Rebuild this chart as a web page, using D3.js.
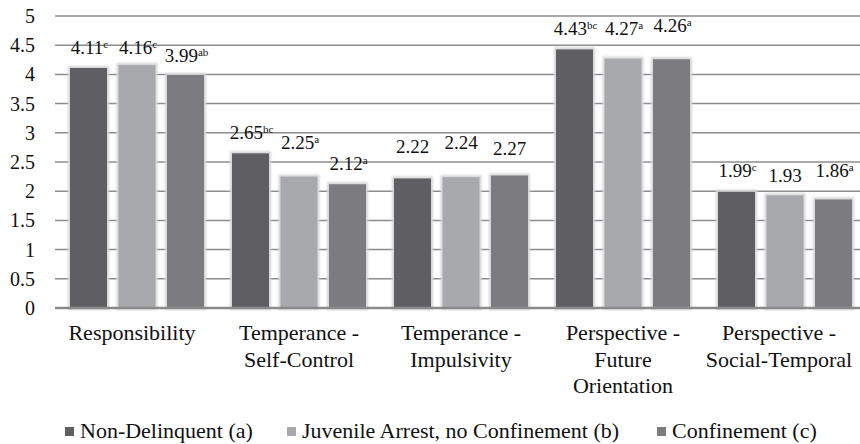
<!DOCTYPE html>
<html>
<head>
<meta charset="utf-8">
<script src="https://cdn.jsdelivr.net/npm/d3@7/dist/d3.min.js"></script>
<style>
  html, body { margin: 0; padding: 0; background: #fff; }
  svg { display: block; }
  #chart text, #chart tspan { font-family: "Liberation Serif", serif !important; }
</style>
</head>
<body>
<svg id="chart" width="860" height="444"></svg>
<script>
// Scale scores by group
const categories = [
  ["Responsibility"],
  ["Temperance -", "Self-Control"],
  ["Temperance -", "Impulsivity"],
  ["Perspective -", "Future", "Orientation"],
  ["Perspective -", "Social-Temporal"]
];
const seriesNames = ["Non-Delinquent (a)", "Juvenile Arrest, no Confinement (b)", "Confinement (c)"];
const nonDelinquent = [4.11, 2.65, 2.22, 4.43, 1.99];
const juvenileArrest = [4.16, 2.25, 2.24, 4.27, 1.93];
const confinement   = [3.99, 2.12, 2.27, 4.26, 1.86];
// significance letters shown as superscripts
const supNonDelinquent = ["c", "bc", "", "bc", "c"];
const supJuvenileArrest = ["c", "a", "", "a", ""];
const supConfinement   = ["ab", "a", "", "a", "a"];
const yTicks = [0, 0.5, 1, 1.5, 2, 2.5, 3, 3.5, 4, 4.5, 5];

const values = [nonDelinquent, juvenileArrest, confinement];
const sups = [supNonDelinquent, supJuvenileArrest, supConfinement];
const colors = ["#5e5f63", "#a8a9ac", "#7b7c80"];
const FONT = "Liberation Serif";

const svg = d3.select("#chart");
const catKeys = categories.map(c => c.join(" "));

const x = d3.scaleBand().domain(catKeys).range([56, 866]);
const xs = d3.scaleBand().domain(d3.range(3)).range([8.25, 153.75]).paddingInner(0.237).paddingOuter(0.1185);
const y = d3.scaleLinear().domain([0, 5]).range([308, 16]);

// horizontal gridlines
svg.append("g").selectAll("line").data(yTicks.filter(t => t > 0)).join("line")
  .attr("x1", 55).attr("x2", 860)
  .attr("y1", d => y(d)).attr("y2", d => y(d))
  .attr("stroke", "#8c8c8c").attr("stroke-width", 1.5);

// y tick labels
const yAxis = d3.axisLeft(y).tickValues(yTicks).tickSize(0).tickPadding(0).tickFormat(d3.format("~g"));
const ga = svg.append("g").attr("transform", "translate(35,0)").call(yAxis);
ga.select(".domain").remove();
ga.attr("font-family", null).attr("font-size", null);
ga.selectAll("text").style("font-family", FONT, "important").attr("font-size", 20).attr("fill", "#111");

// soft light halo around bars
const defs = svg.append("defs");
const f = defs.append("filter").attr("id", "halo").attr("x", "-20%").attr("y", "-20%").attr("width", "140%").attr("height", "140%");
f.append("feMorphology").attr("in", "SourceAlpha").attr("operator", "dilate").attr("radius", 2).attr("result", "d");
f.append("feGaussianBlur").attr("in", "d").attr("stdDeviation", 1.2).attr("result", "b");
f.append("feFlood").attr("flood-color", "#d6d6d6").attr("result", "c");
f.append("feComposite").attr("in", "c").attr("in2", "b").attr("operator", "in").attr("result", "s");
const fm = f.append("feMerge");
fm.append("feMergeNode").attr("in", "s");
fm.append("feMergeNode").attr("in", "SourceGraphic");

// bars
const groups = svg.append("g").selectAll("g").data(catKeys).join("g")
  .attr("transform", d => `translate(${x(d)},0)`);
groups.each(function(k, ci) {
  d3.select(this).selectAll("rect").data(d3.range(3)).join("rect")
    .attr("x", s => xs(s))
    .attr("width", xs.bandwidth())
    .attr("y", s => y(values[s][ci]))
    .attr("height", s => y(0) - y(values[s][ci]))
    .attr("fill", s => colors[s])
    .attr("filter", "url(#halo)");
});

// baseline
svg.append("line").attr("x1", 55).attr("x2", 860).attr("y1", y(0)).attr("y2", y(0))
  .attr("stroke", "#8a8a8a").attr("stroke-width", 2.5);

// value labels; some are lifted a little to keep neighbours apart
const lift = [
  [14, 14, 25, 14, 15],
  [11, 28, 28, 24, 13],
  [13, 14, 20, 27, 22]
];
groups.each(function(k, ci) {
  d3.select(this).selectAll("text.val").data(d3.range(3)).join("text")
    .attr("class", "val")
    .attr("x", s => xs(s) + xs.bandwidth() / 2 + (sups[s][ci] ? 1 : 0))
    .attr("y", s => y(values[s][ci]) - lift[s][ci])
    .attr("text-anchor", "middle")
    .style("font-family", FONT, "important").attr("font-size", 19).attr("fill", "#111")
    .each(function(s) {
      const t = d3.select(this);
      t.append("tspan").text(values[s][ci].toFixed(2));
      if (sups[s][ci]) {
        t.append("tspan").attr("font-size", 11).attr("dy", -6).text(sups[s][ci]);
      }
    });
});

// category labels
const catG = svg.append("g");
categories.forEach((lines, ci) => {
  const cx = Math.min(x(catKeys[ci]) + x.bandwidth() / 2, 779);
  const t = catG.append("text").attr("x", cx).attr("y", 340)
    .attr("text-anchor", "middle")
    .style("font-family", FONT, "important").attr("font-size", 22).attr("fill", "#111");
  lines.forEach((ln, i) => {
    t.append("tspan").attr("x", ci === 0 ? cx - 5 : cx).attr("dy", i === 0 ? 0 : 26.5).text(ln);
  });
});

// legend
const legendX = [65, 287, 657];
const lg = svg.append("g");
seriesNames.forEach((name, i) => {
  lg.append("rect").attr("x", legendX[i]).attr("y", 427).attr("width", 9).attr("height", 9).attr("fill", colors[i]);
  lg.append("text").attr("x", legendX[i] + 15).attr("y", 438)
    .style("font-family", FONT, "important").attr("font-size", 22).attr("fill", "#111").text(name);
});
</script>
</body>
</html>
